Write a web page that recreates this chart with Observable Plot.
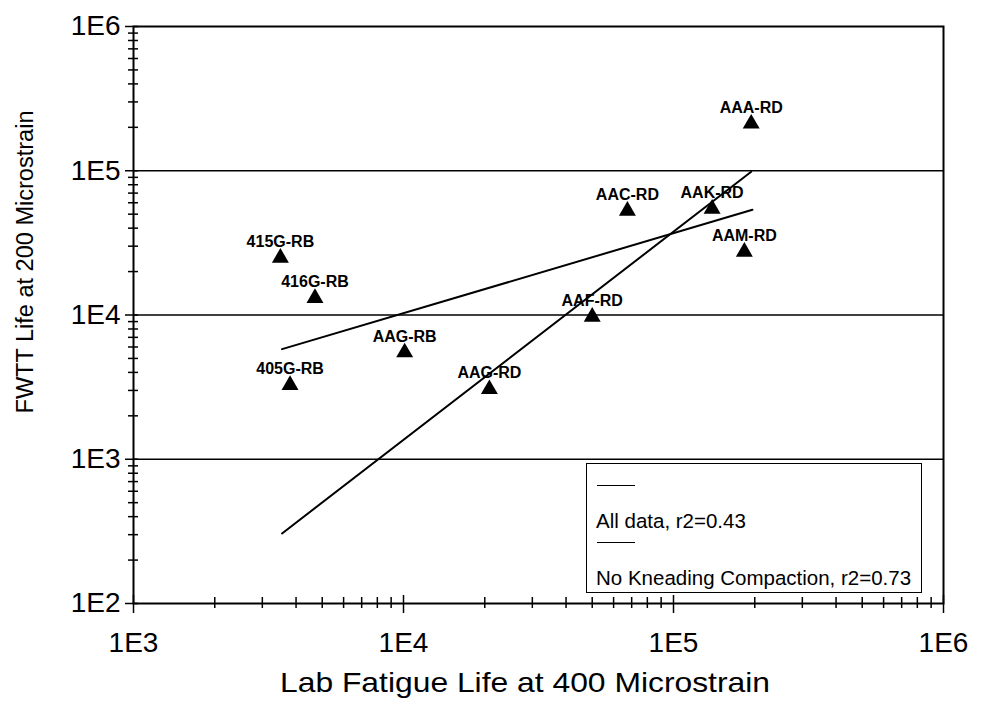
<!DOCTYPE html>
<html>
<head>
<meta charset="utf-8">
<script src="https://cdn.jsdelivr.net/npm/d3@7"></script>
<script src="https://cdn.jsdelivr.net/npm/@observablehq/plot@0.6"></script>
<style>
  html, body { margin: 0; padding: 0; background: #fff; }
  #wrap { position: relative; width: 986px; height: 702px; font-family: "Liberation Sans", Arial, sans-serif; }
  #legend { position: absolute; left: 586px; top: 463px; width: 334px; height: 128px; border: 1.5px solid #000; background: #fff; }
  #legend .ln { position: absolute; left: 10px; width: 38px; height: 0; border-top: 1.5px solid #000; }
  #legend .tx { position: absolute; left: 9px; font-size: 20.5px; color: #000; white-space: nowrap; line-height: 1; }
</style>
</head>
<body>
<div id="wrap"></div>
<script>
// Sample names and values
const names = ["415G-RB", "416G-RB", "AAG-RB", "405G-RB", "AAG-RD", "AAF-RD", "AAC-RD", "AAK-RD", "AAM-RD", "AAA-RD"];
const labLife = [3500, 4700, 10100, 3800, 20800, 50000, 67500, 139000, 183000, 194000];
const fwttLife = [24900, 13100, 5500, 3270, 3060, 9700, 52800, 54500, 27400, 212000];

// Regression line end points
const allDataX = [3550, 196000];
const allDataY = [5800, 53600];
const noKneadX = [3550, 194000];
const noKneadY = [306, 98400];

// Axis ticks
const xMajor = [1e3, 1e4, 1e5, 1e6];
const yMajor = [1e2, 1e3, 1e4, 1e5, 1e6];
const xTickLabels = ["1E3", "1E4", "1E5", "1E6"];
const yTickLabels = ["1E2", "1E3", "1E4", "1E5", "1E6"];
const gridY = [1e3, 1e4, 1e5];
const mult = [2, 3, 4, 5, 6, 7, 8, 9];
const xMinor = [1e3, 1e4, 1e5].flatMap(d => mult.map(m => d * m));
const yMinor = [1e2, 1e3, 1e4, 1e5].flatMap(d => mult.map(m => d * m));

const xTitle = "Lab Fatigue Life at 400 Microstrain";
const yTitle = "FWTT Life at 200 Microstrain";
const legendItems = ["All data, r2=0.43", "No Kneading Compaction, r2=0.73"];

const points = names.map((n, i) => ({name: n, x: labLife[i], y: fwttLife[i]}));
const lineA = allDataX.map((x, i) => ({x, y: allDataY[i]}));
const lineB = noKneadX.map((x, i) => ({x, y: noKneadY[i]}));

const chart = Plot.plot({
  width: 986,
  height: 702,
  marginLeft: 133,
  marginRight: 43,
  marginTop: 26,
  marginBottom: 99,
  style: {fontFamily: "'Liberation Sans', Arial, sans-serif", background: "#fff", color: "#000"},
  x: {type: "log", domain: [1e3, 1e6]},
  y: {type: "log", domain: [1e2, 1e6]},
  marks: [
    Plot.ruleY(gridY, {stroke: "#000", strokeWidth: 1.5}),
    Plot.frame({stroke: "#000", strokeWidth: 2}),
    Plot.ruleX(xMinor, {x: d => d, y1: 100, y2: 100, insetTop: -6, insetBottom: -5, stroke: "#000", strokeWidth: 1.5}),
    Plot.ruleX(xMajor, {x: d => d, y1: 100, y2: 100, insetTop: -8, insetBottom: -10, stroke: "#000", strokeWidth: 1.5}),
    Plot.ruleY(yMinor, {y: d => d, x1: 1000, x2: 1000, insetLeft: -5, insetRight: -5, stroke: "#000", strokeWidth: 1.5}),
    Plot.ruleY(yMajor, {y: d => d, x1: 1000, x2: 1000, insetLeft: -8, insetRight: -5, stroke: "#000", strokeWidth: 1.5}),
    Plot.axisX({ticks: xMajor, tickSize: 0, tickPadding: 29, tickFormat: d => xTickLabels[xMajor.indexOf(d)], fontSize: 28, label: null}),
    Plot.axisY({ticks: yMajor, tickSize: 0, tickPadding: 13, tickFormat: d => yTickLabels[yMajor.indexOf(d)], fontSize: 28, label: null}),
    Plot.line(lineA, {x: "x", y: "y", stroke: "#000", strokeWidth: 2}),
    Plot.line(lineB, {x: "x", y: "y", stroke: "#000", strokeWidth: 2}),
    Plot.dot(points, {x: "x", y: "y", symbol: "triangle", r: 6.3, fill: "#000", stroke: "none"}),
    Plot.text(points, {x: "x", y: "y", text: "name", dy: -16, fontSize: 16, fontWeight: "bold", fill: "#000"})
  ]
});

const wrap = document.getElementById("wrap");
wrap.appendChild(chart);

// Axis titles
const svgNS = "http://www.w3.org/2000/svg";
function addTitle(text, transform, size, len) {
  const t = document.createElementNS(svgNS, "text");
  t.setAttribute("transform", transform);
  t.setAttribute("text-anchor", "middle");
  t.setAttribute("dominant-baseline", "central");
  t.setAttribute("font-size", size);
  t.setAttribute("fill", "#000");
  t.setAttribute("textLength", len);
  t.setAttribute("lengthAdjust", "spacingAndGlyphs");
  t.textContent = text;
  chart.appendChild(t);
}
addTitle(xTitle, "translate(525,682)", 28, 490);
addTitle(yTitle, "translate(25,262) rotate(-90)", 23.5, 303);

// Legend (inside the plot area)
const lg = document.createElement("div");
lg.id = "legend";
const lineTops = [21, 78];
const textTops = [47, 104];
legendItems.forEach((t, i) => {
  const l = document.createElement("div");
  l.className = "ln";
  l.style.top = lineTops[i] + "px";
  lg.appendChild(l);
  const s = document.createElement("div");
  s.className = "tx";
  s.style.top = textTops[i] + "px";
  s.textContent = t;
  lg.appendChild(s);
});
wrap.appendChild(lg);
</script>
</body>
</html>
